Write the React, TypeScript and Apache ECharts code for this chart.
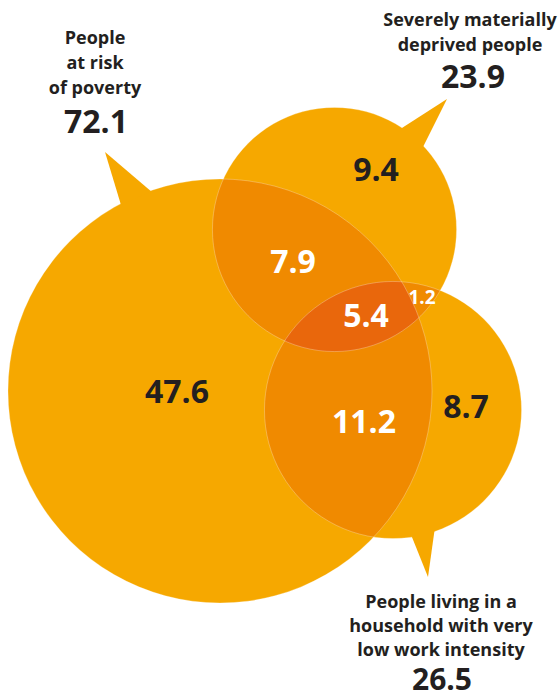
import React, { useEffect, useRef } from "react";
import * as echarts from "echarts";

// ---- data ----
const setNames = [
  "People\nat risk\nof poverty",
  "Severely materially\ndeprived people",
  "People living in a\nhousehold with very\nlow work intensity",
];
const setTotals = [72.1, 23.9, 26.5];

const regionNames = [
  "Poverty only",
  "Deprived only",
  "Low work intensity only",
  "Poverty & deprived",
  "Poverty & low work intensity",
  "Deprived & low work intensity",
  "All three",
];
const regionValues = [47.6, 9.4, 8.7, 7.9, 11.2, 1.2, 5.4];
const regionSets = [[0], [1], [2], [0, 1], [0, 2], [1, 2], [0, 1, 2]];

// ---- layout (chart units; circle area proportional to set total) ----
const RADIUS_PER_SQRT = 24.97;
const CENTERS = [
  [220, 391],
  [334.5, 229.5],
  [393, 410],
];
const TAILS = [
  { tip: [105, 152], a1: -118, a2: -109 },
  { tip: [447, 99], a1: -56.6, a2: -43 },
  { tip: [428, 577], a1: 81.6, a2: 71 },
];
const REGION_LABEL_POS = [
  [177, 390],
  [376, 168],
  [466, 405],
  [293, 260],
  [364, 420],
  [422, 297],
  [366, 314],
];
const NAME_POS = [
  [95, 61.5],
  [470, 31],
  [441, 624.5],
];
const NAME_LINE_HEIGHT = [25, 25, 24];
const TOTAL_POS = [
  [96, 120],
  [473, 75.5],
  [442, 678.5],
];
const TOTAL_FONT = [32, 32, 30];

const BASE = "#F6A800";
const PAIR = "#F08A00";
const TRIPLE = "#E9670C";
const DARK = "#231F20";
const FONT = "'Open Sans', 'Noto Sans', sans-serif";

function circlesPx(api: any) {
  return CENTERS.map((c, i) => {
    const p = api.coord(c);
    const r = api.size([RADIUS_PER_SQRT * Math.sqrt(setTotals[i]), 0])[0];
    return { x: p[0], y: p[1], r };
  });
}

function intersectionPolygon(circles: any[], idx: number[]) {
  const pts: number[][] = [];
  const N = 1440;
  idx.forEach((i) => {
    const c = circles[i];
    for (let k = 0; k < N; k++) {
      const a = (2 * Math.PI * k) / N;
      const x = c.x + c.r * Math.cos(a);
      const y = c.y + c.r * Math.sin(a);
      const inside = idx.every((j) => {
        if (j === i) return true;
        const d = circles[j];
        return Math.hypot(x - d.x, y - d.y) <= d.r + 0.01;
      });
      if (inside) pts.push([x, y]);
    }
  });
  if (!pts.length) return pts;
  let mx = 0,
    my = 0;
  pts.forEach((p) => {
    mx += p[0];
    my += p[1];
  });
  mx /= pts.length;
  my /= pts.length;
  pts.sort(
    (p, q) => Math.atan2(p[1] - my, p[0] - mx) - Math.atan2(q[1] - my, q[0] - mx)
  );
  return pts;
}

export default function App() {
  const ref = useRef<HTMLDivElement>(null);
  useEffect(() => {
    document.body.style.margin = "0";
    document.body.style.padding = "0";
    if (!ref.current) return;
    const chart = echarts.init(ref.current, undefined, { renderer: "svg" });

    const setData = setTotals.map((t, i) => ({
      name: setNames[i],
      value: [CENTERS[i][0], CENTERS[i][1], t],
    }));

    const pairIdx = regionSets
      .map((s, i) => i)
      .filter((i) => regionSets[i].length === 2);
    const tripleIdx = regionSets
      .map((s, i) => i)
      .filter((i) => regionSets[i].length === 3);

    const option: any = {
      animation: false,
      tooltip: { show: false },
      grid: { left: 0, right: 0, top: 0, bottom: 0, containLabel: false },
      xAxis: { type: "value", min: 0, max: 560, show: false },
      yAxis: { type: "value", min: 0, max: 698, inverse: true, show: false },
      series: [
        {
          type: "custom",
          name: "sets",
          silent: true,
          clip: false,
          z: 1,
          data: setData,
          renderItem: (params: any, api: any) => {
            const c = circlesPx(api)[params.dataIndex];
            return {
              type: "circle",
              shape: { cx: c.x, cy: c.y, r: c.r },
              style: { fill: BASE },
            };
          },
        },
        {
          type: "custom",
          name: "pairs",
          silent: true,
          clip: false,
          z: 2,
          data: pairIdx.map((i) => ({ name: regionNames[i], value: [i, regionValues[i]] })),
          renderItem: (params: any, api: any) => {
            const ri = pairIdx[params.dataIndex];
            const pts = intersectionPolygon(circlesPx(api), regionSets[ri]);
            return { type: "polygon", shape: { points: pts }, style: { fill: PAIR } };
          },
        },
        {
          type: "custom",
          name: "triple",
          silent: true,
          clip: false,
          z: 3,
          data: tripleIdx.map((i) => ({ name: regionNames[i], value: [i, regionValues[i]] })),
          renderItem: (params: any, api: any) => {
            const ri = tripleIdx[params.dataIndex];
            const pts = intersectionPolygon(circlesPx(api), regionSets[ri]);
            return { type: "polygon", shape: { points: pts }, style: { fill: TRIPLE } };
          },
        },
        {
          type: "custom",
          name: "edges",
          silent: true,
          clip: false,
          z: 4,
          data: setData,
          renderItem: (params: any, api: any) => {
            const i = params.dataIndex;
            const c = circlesPx(api)[i];
            const t = TAILS[i];
            const tip = api.coord(t.tip);
            const rb = c.r - 1;
            const b1 = [
              c.x + rb * Math.cos((t.a1 * Math.PI) / 180),
              c.y + rb * Math.sin((t.a1 * Math.PI) / 180),
            ];
            const b2 = [
              c.x + rb * Math.cos((t.a2 * Math.PI) / 180),
              c.y + rb * Math.sin((t.a2 * Math.PI) / 180),
            ];
            return {
              type: "group",
              children: [
                {
                  type: "circle",
                  shape: { cx: c.x, cy: c.y, r: c.r },
                  style: { fill: "none", stroke: "rgba(255,255,255,0.35)", lineWidth: 0.8 },
                },
                {
                  type: "polygon",
                  shape: { points: [tip, b1, b2] },
                  style: { fill: BASE },
                },
              ],
            };
          },
        },
        {
          type: "custom",
          name: "regionLabels",
          silent: true,
          clip: false,
          z: 5,
          data: regionValues.map((v, i) => ({
            name: regionNames[i],
            value: [REGION_LABEL_POS[i][0], REGION_LABEL_POS[i][1], v],
          })),
          renderItem: (params: any, api: any) => {
            const i = params.dataIndex;
            const p = api.coord([api.value(0), api.value(1)]);
            const v = api.value(2);
            const inOverlap = regionSets[i].length > 1;
            const small = v < 2;
            return {
              type: "text",
              x: p[0],
              y: p[1],
              style: {
                text: v.toFixed(1),
                fill: inOverlap ? "#FFFFFF" : DARK,
                fontFamily: FONT,
                fontWeight: "bold",
                fontSize: small ? 19 : 32,
                align: "center",
                verticalAlign: "middle",
              },
            };
          },
        },
        {
          type: "custom",
          name: "setLabels",
          silent: true,
          clip: false,
          z: 5,
          data: setData,
          renderItem: (params: any, api: any) => {
            const i = params.dataIndex;
            const np = api.coord(NAME_POS[i]);
            const tp = api.coord(TOTAL_POS[i]);
            return {
              type: "group",
              children: [
                {
                  type: "text",
                  x: np[0],
                  y: np[1],
                  style: {
                    text: setNames[i],
                    fill: DARK,
                    fontFamily: FONT,
                    fontWeight: "bold",
                    fontSize: 18,
                    lineHeight: NAME_LINE_HEIGHT[i],
                    align: "center",
                    verticalAlign: "middle",
                  },
                },
                {
                  type: "text",
                  x: tp[0],
                  y: tp[1],
                  style: {
                    text: setTotals[i].toFixed(1),
                    fill: DARK,
                    fontFamily: FONT,
                    fontWeight: "bold",
                    fontSize: TOTAL_FONT[i],
                    align: "center",
                    verticalAlign: "middle",
                  },
                },
              ],
            };
          },
        },
      ],
    };
    chart.setOption(option);
    return () => chart.dispose();
  }, []);

  return <div ref={ref} style={{ width: 560, height: 698, background: "#fff" }} />;
}
